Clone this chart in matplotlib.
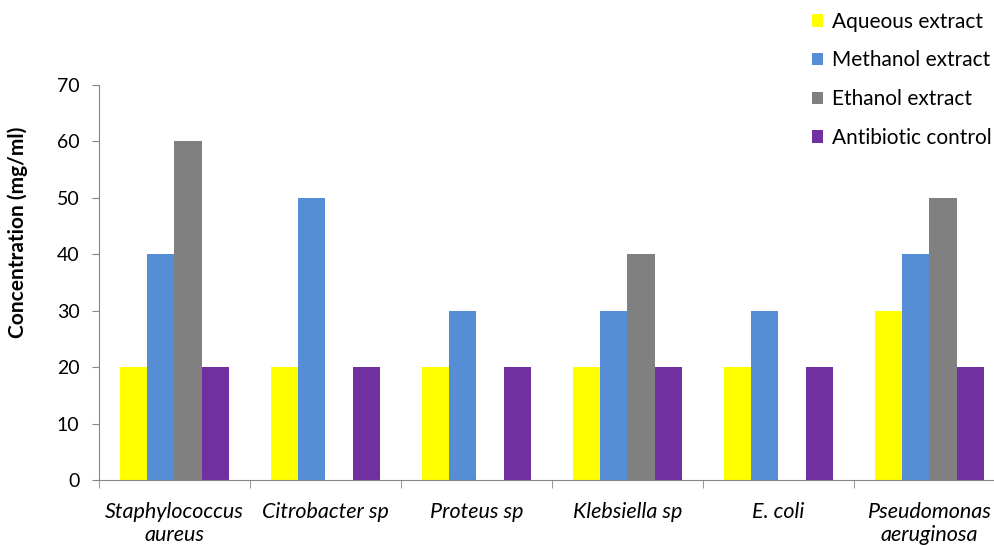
import numpy as np
import matplotlib.pyplot as plt

organisms = ["Staphylococcus\naureus", "Citrobacter sp", "Proteus sp",
             "Klebsiella sp", "E. coli", "Pseudomonas\naeruginosa"]
aqueous = [20, 20, 20, 20, 20, 30]
methanol = [40, 50, 30, 30, 30, 40]
ethanol = [60, 0, 0, 40, 0, 50]
antibiotic = [20, 20, 20, 20, 20, 20]

series = [("Aqueous extract", aqueous, "#FFFF00"),
          ("Methanol extract", methanol, "#558ED5"),
          ("Ethanol extract", ethanol, "#808080"),
          ("Antibiotic control", antibiotic, "#7030A0")]

plt.rcParams['font.family'] = ['Lato', 'DejaVu Sans']

fig = plt.figure(figsize=(9.95, 5.46), dpi=100, facecolor='w')
ax = fig.add_axes([0.0995, 0.1209, 0.9105, 0.7234])

x = np.arange(len(organisms))
w = 0.18
for i, (name, vals, col) in enumerate(series):
    ax.bar(x + (i - 1.5) * w, vals, w, color=col, label=name)

ax.set_xlim(-0.5, len(organisms) - 0.5)
ax.set_ylim(0, 70)
ax.set_yticks(range(0, 71, 10))
ax.tick_params(axis='y', labelsize=14, length=5, pad=9, color='#868686', direction='out')

# category labels in the middle, tick marks on the boundaries
ax.set_xticks(x)
ax.set_xticklabels(organisms, fontsize=15.5, style='italic', linespacing=1.2)
ax.tick_params(axis='x', length=0, pad=16)
ax.set_xticks(np.arange(-0.5, len(organisms)), minor=True)
ax.tick_params(axis='x', which='minor', length=6, color='#868686')

for s in ['top', 'right']:
    ax.spines[s].set_visible(False)
for s in ['left', 'bottom']:
    ax.spines[s].set_color('#868686')

ax.set_ylabel("Concentration (mg/ml)", fontsize=15, fontweight='bold')
ax.yaxis.set_label_coords(-0.078, 0.628)

fig.legend(loc='upper left', bbox_to_anchor=(0.797, 1.013), frameon=False,
           fontsize=15, handlelength=0.55, handleheight=0.55, handletextpad=0.4,
           labelspacing=0.9)

plt.savefig("out.png", dpi=100)
